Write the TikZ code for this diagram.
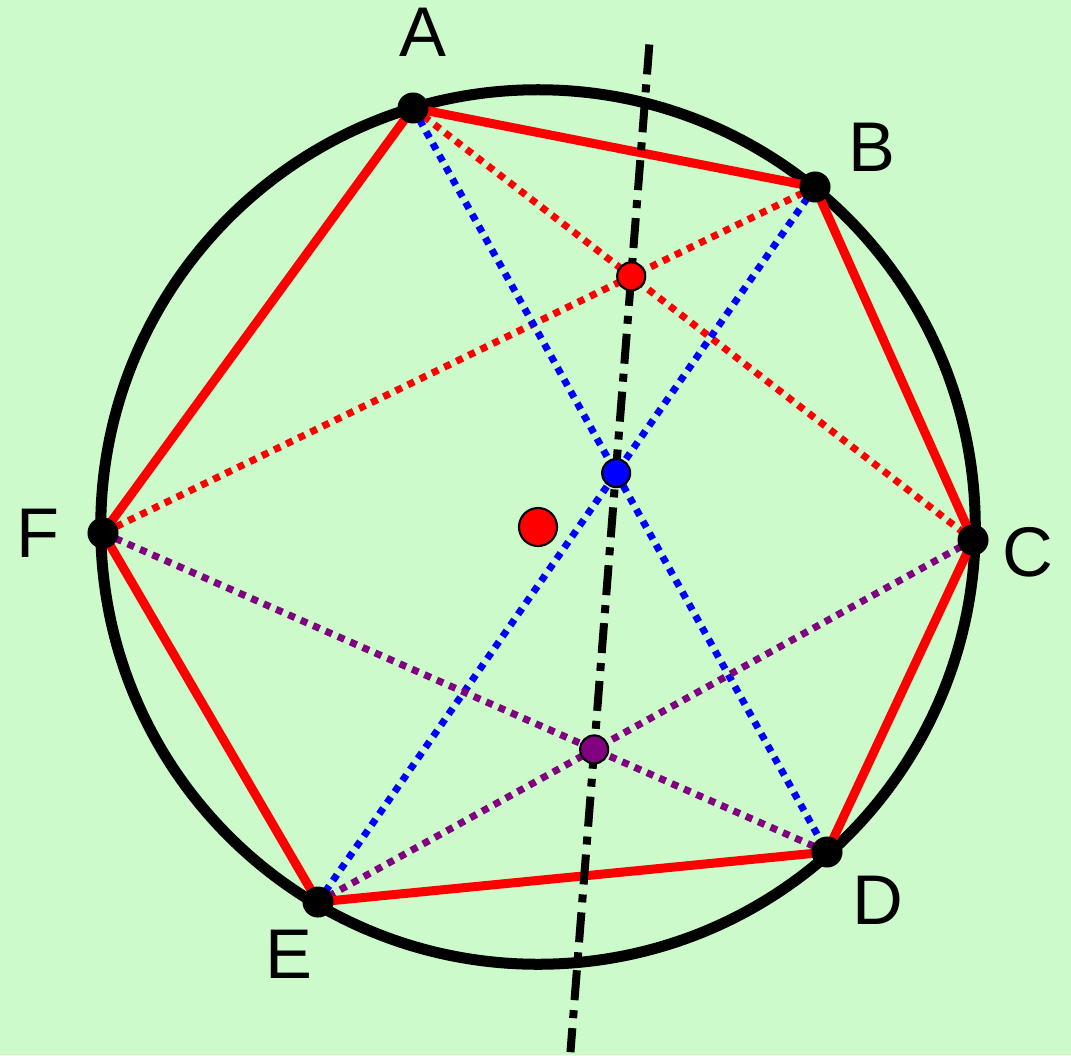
\documentclass[tikz,border=0pt]{standalone}
\usepackage{fontspec}
\setmainfont{Liberation Sans}
\usetikzlibrary{calc}
\definecolor{bggreen}{RGB}{204,250,202}
\definecolor{hexred}{RGB}{255,0,0}
\definecolor{diagblue}{RGB}{0,0,255}
\definecolor{diagpurple}{RGB}{128,0,128}

\begin{document}
\begin{tikzpicture}[x=0.01cm, y=-0.01cm,
    vertex/.style={circle, fill=black, inner sep=0pt, minimum size=0.31cm},
    meet/.style={circle, draw=black, line width=0.6pt, inner sep=0pt, minimum size=0.28cm},
    lbl/.style={font=\fontsize{20}{24}\selectfont, inner sep=0pt},
    diag/.style={line width=0.07cm, dash pattern=on 0.07cm off 0.065cm},
    side/.style={line width=0.09cm, hexred},
    pascal/.style={line width=0.08cm, dash pattern=on 0.3cm off 0.1cm on 0.08cm off 0.1cm},
  ]
  \fill[bggreen] (0,0) rectangle (1071,1055);
  \useasboundingbox (0,0) rectangle (1071,1055);

  % circle and the six points on it
  \coordinate (O) at (538,527);
  \coordinate (A) at (413,108);
  \coordinate (B) at (815,187);
  \coordinate (C) at (973,540);
  \coordinate (D) at (827,852);
  \coordinate (E) at (318,902);
  \coordinate (F) at (103,533);

  % meeting points of opposite sides
  \coordinate (R) at (intersection of A--C and B--F);
  \coordinate (V) at (intersection of A--D and B--E);
  \coordinate (P) at (intersection of F--D and C--E);
  \coordinate (top) at ($(R)!-0.49!(P)$);
  \coordinate (bot) at ($(R)!1.64!(P)$);

  % diagonals
  \draw[diag, hexred] (A) -- (C);
  \draw[diag, hexred] (B) -- (F);
  \draw[diag, diagblue] (A) -- (D);
  \draw[diag, diagblue] (B) -- (E);
  \draw[diag, diagpurple] (F) -- (D);
  \draw[diag, diagpurple] (C) -- (E);

  \draw[line width=0.11cm] (O) circle [radius=4.37cm];
  \draw[side] (A) -- (B) -- (C) -- (D) -- (E) -- (F) -- cycle;

  % Pascal line
  \draw[pascal] (top) -- (bot);

  \node[vertex] (dotA) at (A) {};
  \node[vertex] (dotB) at (B) {};
  \node[vertex] (dotC) at (C) {};
  \node[vertex] (dotD) at (D) {};
  \node[vertex] (dotE) at (E) {};
  \node[vertex] (dotF) at (F) {};
  \node[meet, fill=hexred] (dotR) at (R) {};
  \node[meet, fill=diagblue] (dotV) at (V) {};
  \node[meet, fill=diagpurple] (dotP) at (P) {};
  \node[meet, fill=hexred, minimum size=0.38cm] (dotO) at (O) {};

  \node[lbl] (labA) at (423,32) {A};
  \node[lbl] (labB) at (872,147) {B};
  \node[lbl] (labC) at (1028,552) {C};
  \node[lbl] (labD) at (878,900) {D};
  \node[lbl] (labE) at (289,954) {E};
  \node[lbl] (labF) at (38,533) {F};
\end{tikzpicture}
\end{document}
